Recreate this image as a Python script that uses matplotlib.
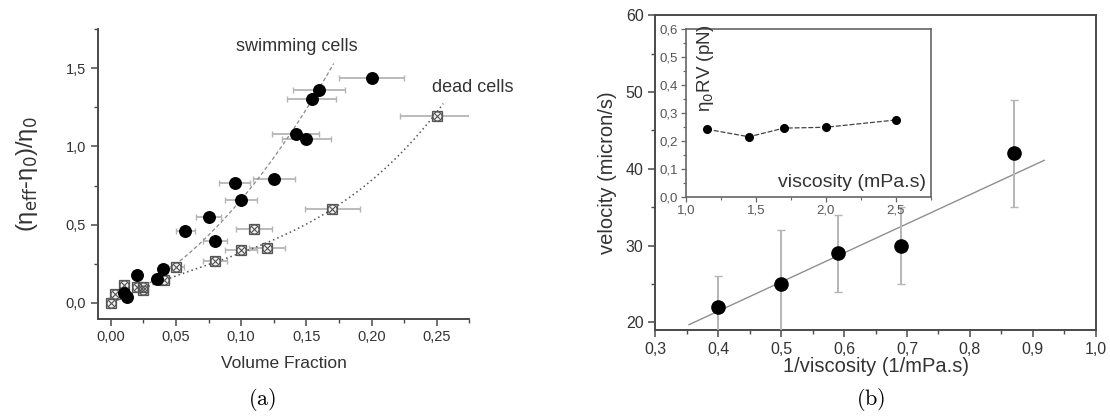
import numpy as np
import matplotlib
matplotlib.use("Agg")
import matplotlib.pyplot as plt
from matplotlib.ticker import MultipleLocator, FormatStrFormatter, FuncFormatter

plt.rcParams['font.family'] = ['Liberation Sans', 'DejaVu Sans']

# (a) relative viscosity vs volume fraction
swim_phi = [0.0104, 0.0122, 0.020, 0.0355, 0.040, 0.057, 0.075, 0.080,
            0.095, 0.100, 0.125, 0.142, 0.150, 0.154, 0.160, 0.200]
swim_eta = [0.064, 0.038, 0.178, 0.155, 0.215, 0.462, 0.548, 0.398,
            0.768, 0.658, 0.795, 1.078, 1.050, 1.305, 1.357, 1.436]
swim_err = [0.0, 0.0, 0.0, 0.003, 0.003, 0.0073, 0.0096, 0.0095,
            0.012, 0.0125, 0.016, 0.018, 0.019, 0.019, 0.020, 0.025]

dead_phi = [0.0, 0.003, 0.010, 0.0198, 0.025, 0.025, 0.041, 0.050,
            0.080, 0.100, 0.110, 0.120, 0.170, 0.250]
dead_eta = [0.0, 0.060, 0.118, 0.100, 0.085, 0.100, 0.150, 0.232,
            0.268, 0.340, 0.472, 0.352, 0.602, 1.192]
dead_err = [0.0, 0.002, 0.003, 0.003, 0.003, 0.003, 0.004, 0.006,
            0.009, 0.0125, 0.014, 0.014, 0.021, 0.028]

# fit coefficients (phi, phi^2, phi^3) and fit ranges
swim_fit = [3.3, 33.0, 0.0]
swim_fit_max = 0.171
dead_fit = [4.1, -17.0, 80.4]
dead_fit_max = 0.255

# (b) velocity vs inverse viscosity
inv_visc = [0.40, 0.50, 0.59, 0.69, 0.87]
velocity = [22, 25, 29, 30, 42]
vel_err = [4, 7, 5, 5, 7]
line_slope = 37.9
line_icpt = 6.3
line_range = [0.3535, 0.918]

# inset: eta0*R*V vs viscosity
visc = [1.15, 1.45, 1.70, 2.00, 2.50]
force = [0.242, 0.215, 0.246, 0.249, 0.275]


def comma_fmt(fmt):
    return FuncFormatter(lambda v, p: (fmt % v).replace('.', ','))


fig = plt.figure(figsize=(11.1, 4.16), dpi=100)

spine_col = '#4a4a4a'
tick_col = '#333333'

#----- panel (a)
ax = fig.add_axes([0.088, 0.234, 0.3348, 0.6964])
for s in ['top', 'right']:
    ax.spines[s].set_visible(False)
for s in ['left', 'bottom']:
    ax.spines[s].set_color(spine_col)
    ax.spines[s].set_linewidth(1.4)

ax.errorbar(swim_phi, swim_eta, xerr=swim_err, fmt='none', ecolor='#b5b5b5',
            elinewidth=1.3, capsize=2.5, capthick=1.0, zorder=2)
ax.errorbar(dead_phi, dead_eta, xerr=dead_err, fmt='none', ecolor='#b5b5b5',
            elinewidth=1.3, capsize=2.5, capthick=1.0, zorder=2)

phi = np.linspace(0, swim_fit_max, 100)
ax.plot(phi, swim_fit[0]*phi + swim_fit[1]*phi**2 + swim_fit[2]*phi**3,
        ls=(0, (3, 2)), color='#8a8a8a', lw=0.9, zorder=3)
phi = np.linspace(0, dead_fit_max, 100)
ax.plot(phi, dead_fit[0]*phi + dead_fit[1]*phi**2 + dead_fit[2]*phi**3,
        ls=(0, (1, 2)), color='#555555', lw=1.1, zorder=3)

# crossed-square markers for the dead cells
ax.plot(dead_phi, dead_eta, ls='none', marker='s', ms=7.5, mfc='#f2f2f2',
        mec='#555555', mew=0.9, zorder=4)
ax.plot(dead_phi, dead_eta, ls='none', marker='o', ms=6.5, mfc='none',
        mec='#555555', mew=0.8, zorder=5)
ax.plot(dead_phi, dead_eta, ls='none', marker='x', ms=5.5,
        mec='#555555', mew=0.8, zorder=5)
ax.plot(swim_phi, swim_eta, ls='none', marker='o', ms=8.3, color='black', zorder=6)

ax.set_xlim(-0.01, 0.275)
ax.set_ylim(-0.1, 1.75)
ax.xaxis.set_major_locator(MultipleLocator(0.05))
ax.xaxis.set_minor_locator(MultipleLocator(0.025))
ax.yaxis.set_major_locator(MultipleLocator(0.5))
ax.yaxis.set_minor_locator(MultipleLocator(0.25))
ax.xaxis.set_major_formatter(comma_fmt('%.2f'))
ax.yaxis.set_major_formatter(comma_fmt('%.1f'))
ax.tick_params(which='both', direction='out', colors=spine_col, labelcolor=tick_col,
               labelsize=10.5)
ax.tick_params(which='major', length=5, width=1.1)
ax.tick_params(which='minor', length=3, width=1.0)
ax.set_xlabel('Volume Fraction', fontsize=12.5, color='#333333', labelpad=8)
ax.set_ylabel(r'(η$_{\rm eff}$-η$_0$)/η$_0$', fontsize=17, color='#333333', labelpad=18)

ax.text(0.1424, 1.638, 'swimming cells', fontsize=13, color='#333333',
        ha='center', va='center')
ax.text(0.278, 1.379, 'dead cells', fontsize=13, color='#333333',
        ha='center', va='center')

fig.text(0.2365, 0.04, r'$(\mathrm{a})$', fontsize=16, ha='center', va='center',
         math_fontfamily='cm')

#----- panel (b)
bx = fig.add_axes([0.5904, 0.2067, 0.3968, 0.757])
for s in bx.spines.values():
    s.set_color(spine_col)
    s.set_linewidth(1.4)

xs = np.array(line_range)
bx.plot(xs, line_slope*xs + line_icpt, color='#8f8f8f', lw=1.0, zorder=2)
bx.errorbar(inv_visc, velocity, yerr=vel_err, fmt='none', ecolor='#b5b5b5',
            elinewidth=1.4, capsize=3, capthick=1.0, zorder=3)
bx.plot(inv_visc, velocity, ls='none', marker='o', ms=9.5, color='black', zorder=4)

bx.set_xlim(0.3, 1.0)
bx.set_ylim(19, 60)
bx.xaxis.set_major_locator(MultipleLocator(0.1))
bx.xaxis.set_minor_locator(MultipleLocator(0.05))
bx.yaxis.set_major_locator(MultipleLocator(10))
bx.yaxis.set_minor_locator(MultipleLocator(5))
bx.xaxis.set_major_formatter(comma_fmt('%.1f'))
bx.yaxis.set_major_formatter(FormatStrFormatter('%d'))
bx.tick_params(which='both', direction='out', colors=spine_col, labelcolor=tick_col,
               labelsize=11.5)
bx.tick_params(which='major', length=5, width=1.1)
bx.tick_params(which='minor', length=3, width=1.0)
bx.set_xlabel('1/viscosity (1/mPa.s)', fontsize=14.5, color='#333333', labelpad=0)
bx.set_ylabel('velocity (micron/s)', fontsize=14.5, color='#333333', labelpad=6)

fig.text(0.784, 0.04, r'$(\mathrm{b})$', fontsize=16, ha='center', va='center',
         math_fontfamily='cm')

#----- inset
ix = fig.add_axes([0.618, 0.5264, 0.2205, 0.404])
for s in ix.spines.values():
    s.set_color('#666666')
    s.set_linewidth(1.2)
ix.plot(visc, force, ls=(0, (4, 1.5)), color='#444444', lw=0.9, marker='o',
        ms=5.5, mfc='black', mec='black')
ix.set_xlim(1.0, 2.75)
ix.set_ylim(0, 0.6)
ix.xaxis.set_major_locator(MultipleLocator(0.5))
ix.xaxis.set_minor_locator(MultipleLocator(0.25))
ix.yaxis.set_major_locator(MultipleLocator(0.1))
ix.yaxis.set_minor_locator(MultipleLocator(0.05))
ix.xaxis.set_major_formatter(comma_fmt('%.1f'))
ix.yaxis.set_major_formatter(comma_fmt('%.1f'))
ix.tick_params(which='both', direction='out', colors='#666666', labelcolor='#555555',
               labelsize=9.5, pad=2)
ix.tick_params(which='major', length=3.5, width=0.9)
ix.tick_params(which='minor', length=2, width=0.8)
ix.text(0.981, 0.085, 'viscosity (mPa.s)', transform=ix.transAxes, fontsize=14,
        color='#333333', ha='right', va='center')
ix.text(0.078, 0.765, r'η$_0$RV (pN)', transform=ix.transAxes, fontsize=13.5,
        color='#333333', ha='center', va='center', rotation=90)

fig.savefig('out.png', dpi=100)
